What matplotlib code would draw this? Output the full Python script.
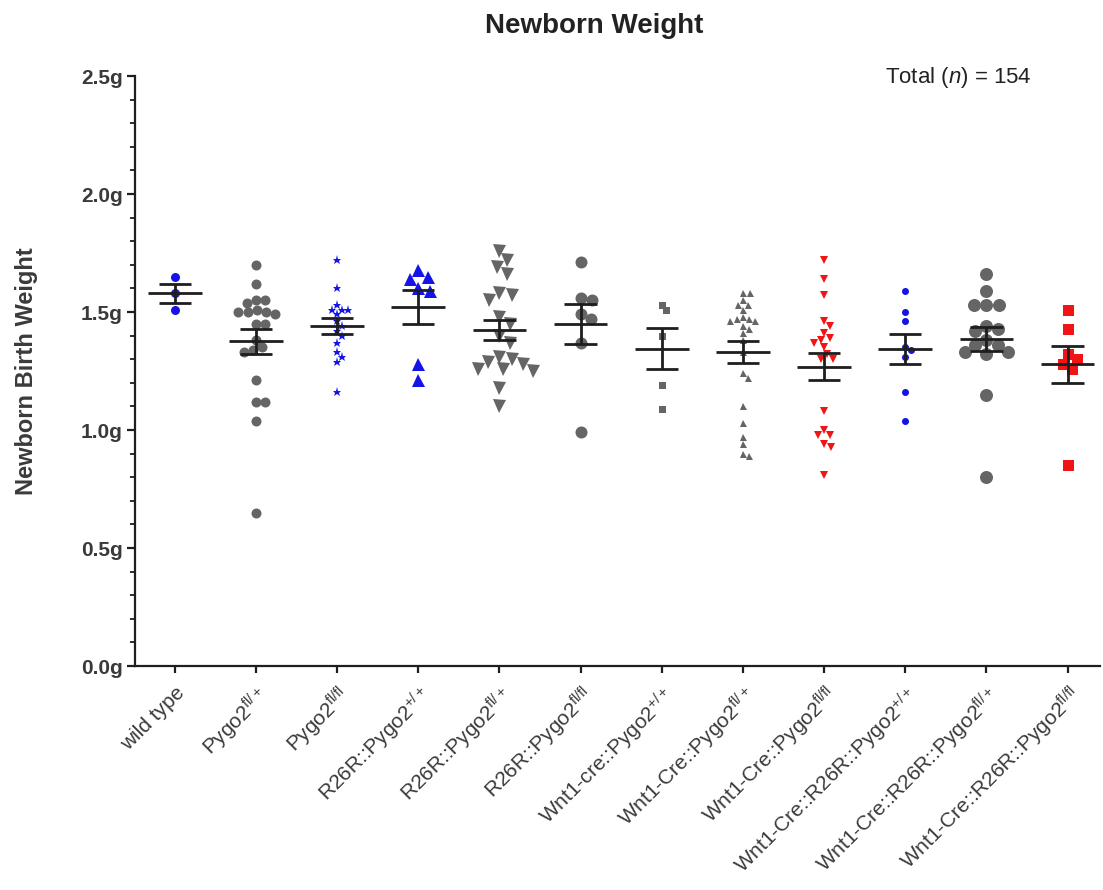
import numpy as np
import matplotlib
matplotlib.use("Agg")
import matplotlib.pyplot as plt
from matplotlib.ticker import MultipleLocator, FormatStrFormatter

plt.rcParams['font.family'] = ['Liberation Sans', 'DejaVu Sans']
plt.rcParams['mathtext.fontset'] = 'custom'
plt.rcParams['mathtext.rm'] = 'Liberation Sans'
plt.rcParams['mathtext.it'] = 'Liberation Sans:italic'

# ---------------- data ----------------
group_names = ['wild type', 'Pygo2', 'Pygo2', 'R26R::Pygo2', 'R26R::Pygo2', 'R26R::Pygo2',
               'Wnt1-cre::Pygo2', 'Wnt1-Cre::Pygo2', 'Wnt1-Cre::Pygo2',
               'Wnt1-Cre::R26R::Pygo2', 'Wnt1-Cre::R26R::Pygo2', 'Wnt1-Cre::R26R::Pygo2']
group_sups = ['', 'fl/+', 'fl/fl', '+/+', 'fl/+', 'fl/fl', '+/+', 'fl/+', 'fl/fl', '+/+', 'fl/+', 'fl/fl']

wild_type = [1.65, 1.58, 1.51]
pygo2_fl_het = [1.70, 1.62, 1.55, 1.55, 1.54, 1.51, 1.50, 1.50, 1.49, 1.50, 1.45, 1.45,
                1.38, 1.34, 1.33, 1.35, 1.21, 1.12, 1.12, 1.04, 0.65]
pygo2_fl_fl = [1.72, 1.60, 1.53, 1.51, 1.51, 1.51, 1.49, 1.46, 1.44, 1.42, 1.40, 1.37,
               1.33, 1.31, 1.29, 1.16]
r26r_wt = [1.68, 1.65, 1.64, 1.60, 1.59, 1.28, 1.21]
r26r_fl_het = [1.76, 1.72, 1.69, 1.66, 1.58, 1.57, 1.55, 1.48, 1.45, 1.40, 1.37, 1.31,
               1.30, 1.29, 1.28, 1.26, 1.26, 1.25, 1.18, 1.10]
r26r_fl_fl = [1.71, 1.56, 1.55, 1.49, 1.47, 1.37, 0.99]
wnt1_wt = [1.53, 1.51, 1.40, 1.19, 1.09]
wnt1_fl_het = [1.58, 1.58, 1.55, 1.53, 1.53, 1.51, 1.48, 1.47, 1.46, 1.46, 1.47, 1.44,
               1.43, 1.41, 1.38, 1.33, 1.24, 1.22, 1.10, 1.03, 0.97, 0.94, 0.90, 0.89]
wnt1_fl_fl = [1.72, 1.64, 1.57, 1.46, 1.44, 1.41, 1.39, 1.38, 1.37, 1.35, 1.32, 1.30,
              1.30, 1.08, 1.00, 0.98, 0.98, 0.94, 0.93, 0.81]
wnt1_r26r_wt = [1.59, 1.50, 1.46, 1.35, 1.34, 1.31, 1.16, 1.04]
wnt1_r26r_fl_het = [1.66, 1.59, 1.53, 1.53, 1.53, 1.44, 1.43, 1.42, 1.38, 1.36, 1.33,
                    1.32, 1.33, 1.36, 1.15, 0.80]
wnt1_r26r_fl_fl = [1.51, 1.43, 1.32, 1.30, 1.28, 1.26, 0.85]

groups = [wild_type, pygo2_fl_het, pygo2_fl_fl, r26r_wt, r26r_fl_het, r26r_fl_fl,
          wnt1_wt, wnt1_fl_het, wnt1_fl_fl, wnt1_r26r_wt, wnt1_r26r_fl_het, wnt1_r26r_fl_fl]

y_ticks = [0.0, 0.5, 1.0, 1.5, 2.0, 2.5]
total_label = 'Total ($n$) = 154'

# ---------------- style ----------------
GRAY = '#656565'
BLUE = '#1414e6'
RED = '#f01414'
styles = [  # marker, color, diameter in px
    ('o', BLUE, 9), ('o', GRAY, 10), ('*', BLUE, 7), ('^', BLUE, 13),
    ('v', GRAY, 13), ('o', GRAY, 12), ('s', GRAY, 7), ('^', GRAY, 7),
    ('v', RED, 8), ('o', BLUE, 7), ('o', GRAY, 13), ('s', RED, 11),
]
DPI = 100
fig = plt.figure(figsize=(11.03, 8.90), dpi=DPI)
ax = fig.add_axes([135 / 1103, 1 - 666 / 890, (1100 - 135) / 1103, (666 - 76) / 890])
ax.set_xlim(-0.49, 11.40)
ax.set_ylim(0, 2.5)

# pixel scales from the axes transform
x_px = ax.transData.transform((1, 0))[0] - ax.transData.transform((0, 0))[0]
y_px = ax.transData.transform((0, 1))[1] - ax.transData.transform((0, 0))[1]


def swarm(vals, d):
    ys = np.asarray(vals) * y_px
    order = np.argsort(-ys, kind='stable')
    xs = np.zeros(len(ys))
    placed = []
    for i in order:
        y = ys[i]
        nb = [(px, py) for px, py in placed if abs(py - y) < d]
        cands = [0.0]
        for px, py in nb:
            dx = np.sqrt(d * d - (py - y) ** 2)
            cands += [px + dx, px - dx]
        cands = sorted(cands, key=lambda c: (round(abs(c), 3), -c))
        for c in cands:
            if all((c - px) ** 2 + (y - py) ** 2 >= d * d - 1e-6 for px, py in nb):
                xs[i] = c
                break
        placed.append((xs[i], y))
    return xs / x_px


for gi, vals in enumerate(groups):
    mk, col, dpx = styles[gi]
    offs = swarm(vals, dpx * 0.95)
    ms = dpx * 72 / DPI
    if mk == '*':
        ms *= 1.3
    ax.plot(gi + offs, vals, linestyle='none', marker=mk, color=col,
            markersize=ms, markeredgewidth=0, zorder=2, clip_on=False)
    v = np.asarray(vals)
    m = v.mean()
    sem = v.std(ddof=1) / np.sqrt(len(v))
    lw = 2.0
    ax.hlines(m, gi - 0.33, gi + 0.33, color='#1e1e1e', lw=lw, zorder=3)
    ax.hlines([m - sem, m + sem], gi - 0.2, gi + 0.2, color='#1e1e1e', lw=lw, zorder=3)
    ax.vlines(gi, m - sem, m + sem, color='#1e1e1e', lw=lw, zorder=3)

# axes styling
for s in ['top', 'right']:
    ax.spines[s].set_visible(False)
for s in ['left', 'bottom']:
    ax.spines[s].set_linewidth(1.6)
    ax.spines[s].set_color('#1e1e1e')

ax.set_yticks(y_ticks)
ax.yaxis.set_major_formatter(FormatStrFormatter('%.1fg'))
ax.yaxis.set_minor_locator(MultipleLocator(0.1))
ax.tick_params(axis='y', which='major', length=6, width=1.6, color='#1e1e1e',
               labelsize=15, labelcolor='#3a3a3a', pad=3)
ax.tick_params(axis='y', which='minor', length=3.5, width=1.3, color='#1e1e1e')
for lab in ax.get_yticklabels():
    lab.set_fontweight('bold')

labels = [n if s == '' else n + r'$^{\mathregular{' + s + '}}$' for n, s in zip(group_names, group_sups)]
ax.set_xticks(range(len(groups)))
ax.set_xticklabels(labels, rotation=45, ha='right', va='top', rotation_mode='anchor',
                   fontsize=15, color='#3a3a3a')
ax.tick_params(axis='x', length=5, width=1.6, color='#1e1e1e', pad=7)

ax.set_ylabel('Newborn Birth Weight', fontsize=17, fontweight='bold', color='#3a3a3a')
ax.yaxis.set_label_coords(-0.101, 0.5)

fig.text(594 / 1103, 1 - 26 / 890, 'Newborn Weight', ha='center', va='center',
         fontsize=20, fontweight='bold', color='#222222')
ax.text(885 / 1103, 1 - 78 / 890, total_label, transform=fig.transFigure, ha='left',
        va='center', fontsize=16, color='#222222')

fig.savefig('out.png', dpi=DPI)
